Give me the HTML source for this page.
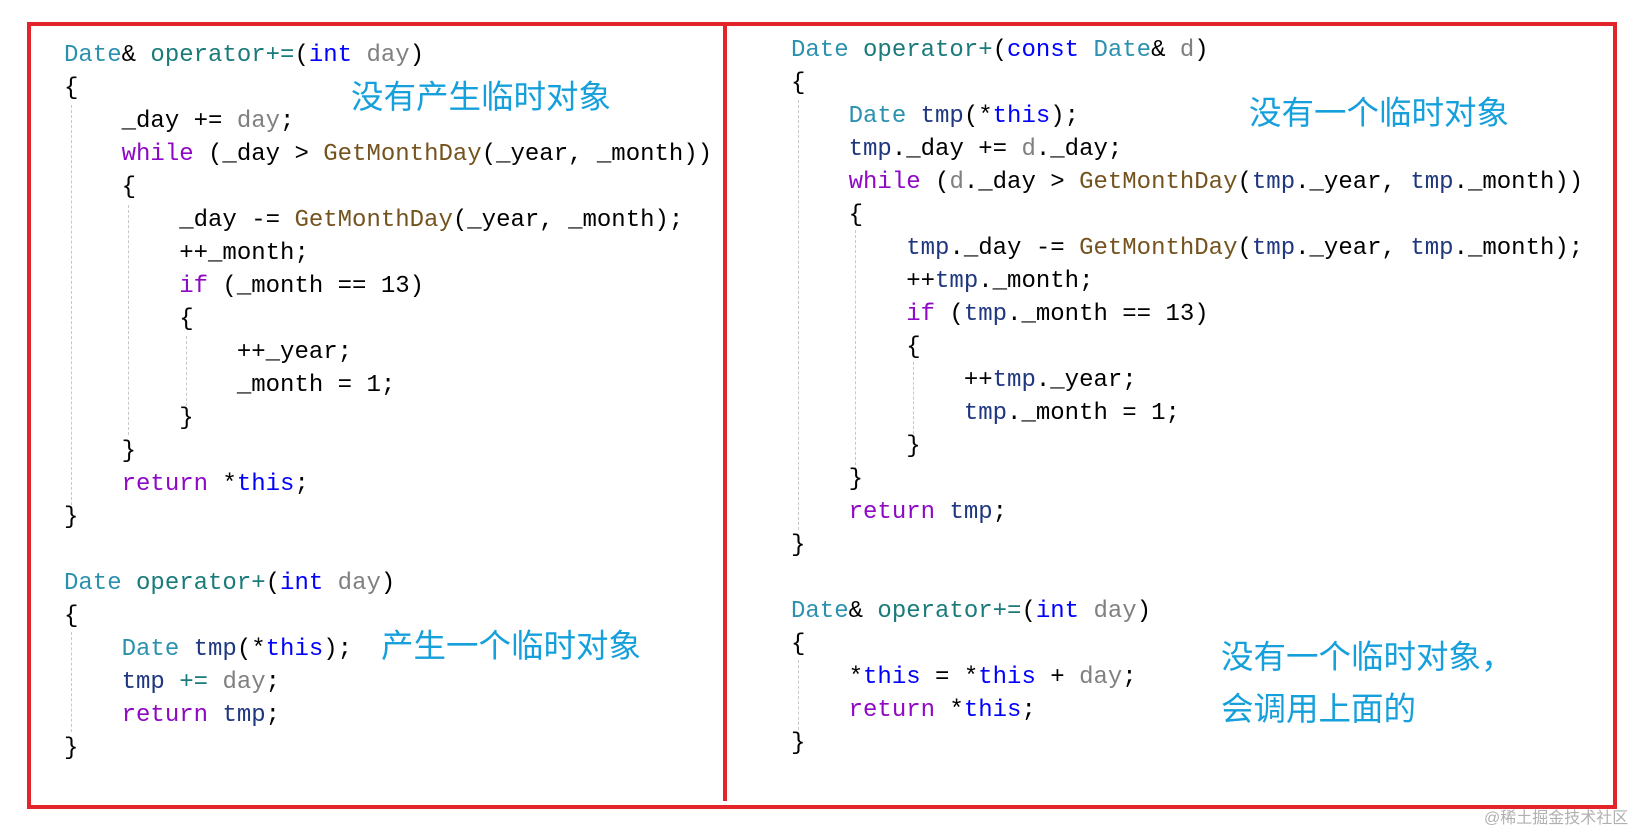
<!DOCTYPE html>
<html><head><meta charset="utf-8">
<style>
html,body{margin:0;padding:0;background:#fff;width:1650px;height:832px;overflow:hidden;position:relative;}
.box{position:absolute;left:27px;top:22px;width:1582px;height:779px;border:4px solid #e3242b;}
.div{position:absolute;left:723px;top:24px;width:4px;height:777px;background:#e3242b;}
pre{position:absolute;margin:0;font-family:"Liberation Mono",monospace;font-size:24px;line-height:33px;color:#000;}
.t{color:#2b91af}.o{color:#1b7a7a}.k{color:#0000ff}.g{color:#808080}.p{color:#8f08c4}.f{color:#74531f}.v{color:#1f377f}
.cn{position:absolute;font-family:"Liberation Sans","Noto Sans CJK SC",sans-serif;font-size:32.5px;color:#16a0db;white-space:nowrap;line-height:1;}
.dl{position:absolute;width:0;border-left:1px dashed #c8c8c8;}
.wm{position:absolute;left:1484px;top:804px;font-family:"Liberation Sans","Noto Sans CJK SC",sans-serif;font-size:16px;color:#b0b0b0;}
</style></head><body>
<div class="box"></div><div class="div"></div>
<div class="dl" style="left:71px;top:105px;height:400px"></div>
<div class="dl" style="left:128px;top:205px;height:230px"></div>
<div class="dl" style="left:186px;top:336px;height:70px"></div>
<div class="dl" style="left:71px;top:632px;height:100px"></div>
<div class="dl" style="left:798px;top:100px;height:430px"></div>
<div class="dl" style="left:855px;top:230px;height:240px"></div>
<div class="dl" style="left:913px;top:362px;height:72px"></div>
<div class="dl" style="left:798px;top:660px;height:70px"></div>
<pre style="left:64px;top:39px"><span class="t">Date</span>&amp; <span class="o">operator+=</span>(<span class="k">int</span> <span class="g">day</span>)
{
    _day += <span class="g">day</span>;
    <span class="p">while</span> (_day &gt; <span class="f">GetMonthDay</span>(_year, _month))
    {
        _day -= <span class="f">GetMonthDay</span>(_year, _month);
        ++_month;
        <span class="p">if</span> (_month == 13)
        {
            ++_year;
            _month = 1;
        }
    }
    <span class="p">return</span> *<span class="k">this</span>;
}
</pre>
<pre style="left:64px;top:567px"><span class="t">Date</span> <span class="o">operator+</span>(<span class="k">int</span> <span class="g">day</span>)
{
    <span class="t">Date</span> <span class="v">tmp</span>(*<span class="k">this</span>);
    <span class="v">tmp</span> <span class="o">+=</span> <span class="g">day</span>;
    <span class="p">return</span> <span class="v">tmp</span>;
}
</pre>
<pre style="left:791px;top:34px"><span class="t">Date</span> <span class="o">operator+</span>(<span class="k">const</span> <span class="t">Date</span>&amp; <span class="g">d</span>)
{
    <span class="t">Date</span> <span class="v">tmp</span>(*<span class="k">this</span>);
    <span class="v">tmp</span>._day += <span class="g">d</span>._day;
    <span class="p">while</span> (<span class="g">d</span>._day &gt; <span class="f">GetMonthDay</span>(<span class="v">tmp</span>._year, <span class="v">tmp</span>._month))
    {
        <span class="v">tmp</span>._day -= <span class="f">GetMonthDay</span>(<span class="v">tmp</span>._year, <span class="v">tmp</span>._month);
        ++<span class="v">tmp</span>._month;
        <span class="p">if</span> (<span class="v">tmp</span>._month == 13)
        {
            ++<span class="v">tmp</span>._year;
            <span class="v">tmp</span>._month = 1;
        }
    }
    <span class="p">return</span> <span class="v">tmp</span>;
}
</pre>
<pre style="left:791px;top:595px"><span class="t">Date</span>&amp; <span class="o">operator+=</span>(<span class="k">int</span> <span class="g">day</span>)
{
    *<span class="k">this</span> = *<span class="k">this</span> + <span class="g">day</span>;
    <span class="p">return</span> *<span class="k">this</span>;
}
</pre>
<div class="cn" style="left:351px;top:81px">没有产生临时对象</div>
<div class="cn" style="left:381px;top:630px">产生一个临时对象</div>
<div class="cn" style="left:1249px;top:97px">没有一个临时对象</div>
<div class="cn" style="left:1221px;top:641px">没有一个临时对象，</div>
<div class="cn" style="left:1221px;top:693px">会调用上面的</div>
<div class="wm">@稀土掘金技术社区</div>
</body></html>
